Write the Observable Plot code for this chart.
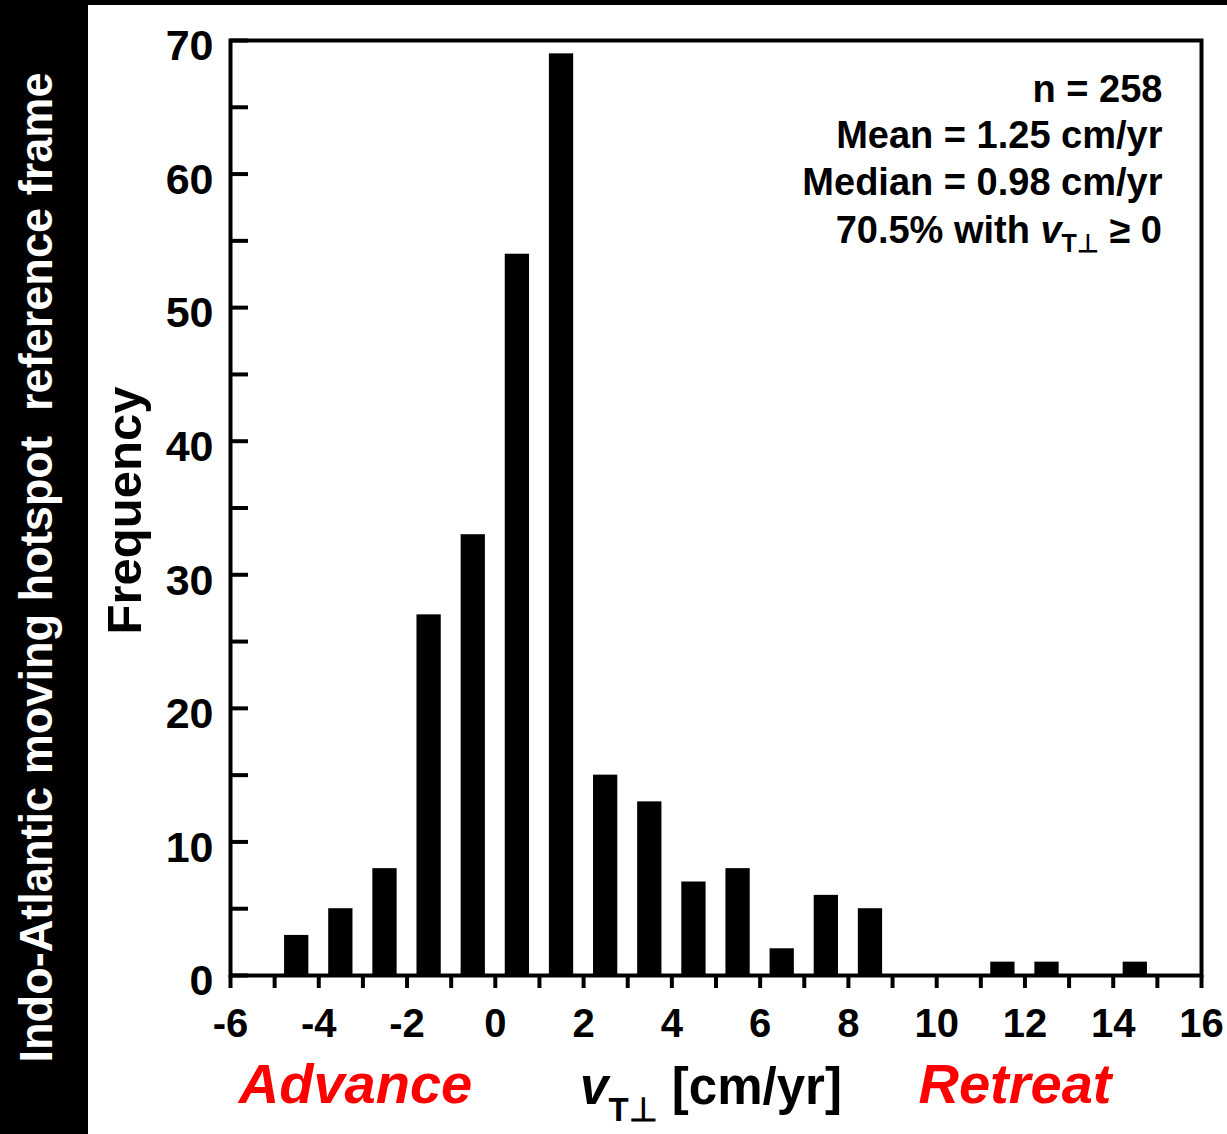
<!DOCTYPE html>
<html><head><meta charset="utf-8">
<script src="https://cdn.jsdelivr.net/npm/d3@7"></script>
<script src="https://cdn.jsdelivr.net/npm/@observablehq/plot@0.6"></script>
<style>
html,body{margin:0;padding:0;background:#000;}
#wrap{position:relative;width:1227px;height:1134px;background:#000;overflow:hidden;}
#chart{position:absolute;left:88px;top:5px;}
#chart svg{background:#fff;color:#000;}
#band{position:absolute;left:0;top:0;}
#chart svg text, #band text{font-family:"Liberation Sans",Arial,sans-serif;font-weight:700;white-space:pre;}
</style></head><body>
<div id="wrap"><svg id="band" width="88" height="1134"></svg><div id="chart"></div></div>
<script>
// ---- data ----
const binCenters = [-4.5, -3.5, -2.5, -1.5, -0.5, 0.5, 1.5, 2.5, 3.5, 4.5, 5.5, 6.5, 7.5, 8.5, 11.5, 12.5, 14.5];
const counts     = [3, 5, 8, 27, 33, 54, 69, 15, 13, 7, 8, 2, 6, 5, 1, 1, 1];
const xTickLabels = [-6, -4, -2, 0, 2, 4, 6, 8, 10, 12, 14, 16];
const xMinorTicks = [-6,-5,-4,-3,-2,-1,0,1,2,3,4,5,6,7,8,9,10,11,12,13,14,15,16];
const yTickLabels = [0, 10, 20, 30, 40, 50, 60, 70];
const yMinorTicks = [0,5,10,15,20,25,30,35,40,45,50,55,60,65,70];
const statsLines = ["n = 258", "Mean = 1.25 cm/yr", "Median = 0.98 cm/yr"];
const statsLine4 = ["70.5% with ", "v", "T\u22A5", " \u2265 0"];
const sideTitle = "Indo-Atlantic moving hotspot  reference frame";
const yLabel = "Frequency";
const xLabelParts = ["v", "T\u22A5", " [cm/yr]"];
const leftLabel = "Advance";
const rightLabel = "Retreat";

const data = binCenters.map((x, i) => ({x, count: counts[i]}));
const W = 1139, H = 1129, ML = 142, MR = 26, MT = 35, MB = 159;
const barHalf = 0.275;
const statsSize = 38;

const plot = Plot.plot({
  width: W, height: H,
  marginLeft: ML, marginRight: MR, marginTop: MT, marginBottom: MB,
  style: {background: "white", color: "black"},
  x: {domain: [-6, 16]},
  y: {domain: [0, 70]},
  marks: [
    Plot.rectY(data, {x1: d => d.x - barHalf, x2: d => d.x + barHalf, y: "count", fill: "black"}),
    Plot.axisX({ticks: xMinorTicks, tickSize: 13, strokeWidth: 4, fill: "none", label: null}),
    Plot.axisX({ticks: xTickLabels, tickSize: 0, tickPadding: 33, fontSize: 40,
      tickFormat: d => (d < 0 ? "-" : "") + Math.abs(d), label: null}),
    Plot.axisY({ticks: yMinorTicks, tickSize: -18, strokeWidth: 4, fill: "none", label: null}),
    Plot.axisY({ticks: yTickLabels, tickSize: 0, tickPadding: 17, fontSize: 43, dy: 6, label: null}),
    Plot.frame({strokeWidth: 4}),
    Plot.text([yLabel], {frameAnchor: "left", rotate: -90, dx: -105.5, dy: 2.5, fontSize: 49,
      lineAnchor: "middle", textAnchor: "middle"}),
    Plot.text([statsLines.join("\n")], {frameAnchor: "top-right", textAnchor: "end", lineAnchor: "top",
      dx: -39, dy: 28.2, fontSize: statsSize, lineHeight: 46.5 / statsSize}),
    Plot.text([leftLabel], {frameAnchor: "bottom-left", textAnchor: "middle", lineAnchor: "bottom",
      dx: 125, dy: 127, fontSize: 56, fontStyle: "italic", fill: "#ff0000"}),
    Plot.text([rightLabel], {frameAnchor: "bottom-left", textAnchor: "middle", lineAnchor: "bottom",
      dx: 784.5, dy: 127, fontSize: 56, fontStyle: "italic", fill: "#ff0000"})
  ]
});
document.getElementById("chart").appendChild(plot);

const svg = d3.select(plot);
// 4th stats line with italic v and subscript
const t4 = svg.append("text")
  .attr("x", W - MR - 39).attr("y", 237.5)
  .attr("text-anchor", "end").attr("font-size", statsSize).attr("fill", "black");
t4.append("tspan").text(statsLine4[0]);
t4.append("tspan").attr("font-style", "italic").text(statsLine4[1]);
t4.append("tspan").attr("font-size", 25).attr("dy", 9).text(statsLine4[2]);
t4.append("tspan").attr("dy", -9).text(statsLine4[3]);

// x-axis title
const xl = svg.append("text")
  .attr("x", 623).attr("y", 1099)
  .attr("text-anchor", "middle").attr("font-size", 51).attr("fill", "black");
xl.append("tspan").attr("font-style", "italic").text(xLabelParts[0]);
xl.append("tspan").attr("font-size", 33).attr("dy", 17).text(xLabelParts[1]);
xl.append("tspan").attr("dy", -17).text(xLabelParts[2]);

// side band title
d3.select("#band").append("text")
  .attr("transform", "translate(52,567.5) rotate(-90)")
  .attr("text-anchor", "middle")
  .attr("font-size", 47)
  .attr("fill", "white")
  .attr("textLength", 990)
  .attr("lengthAdjust", "spacingAndGlyphs")
  .text(sideTitle);
</script>
</body></html>
